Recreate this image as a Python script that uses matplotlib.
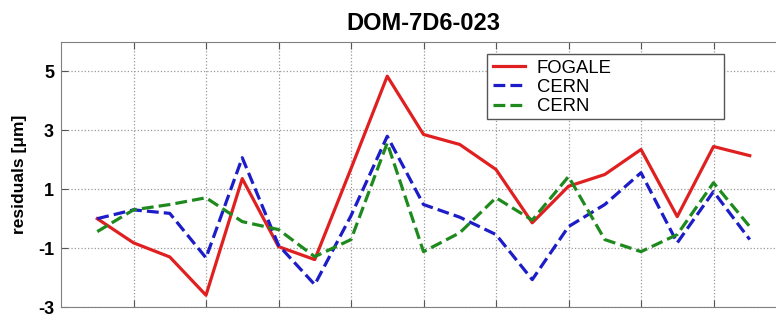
import matplotlib
matplotlib.use("Agg")
import matplotlib.pyplot as plt
from matplotlib.patches import Rectangle

plt.rcParams['font.family'] = ['Liberation Sans', 'DejaVu Sans']

title = "DOM-7D6-023"
ylabel = "residuals [\u03bcm]"
x = list(range(1, 20))
fogale = [0.0, -0.82, -1.3, -2.6, 1.36, -0.95, -1.39, 1.7, 4.84, 2.86, 2.52, 1.67,
          -0.14, 1.1, 1.5, 2.35, 0.07, 2.45, 2.14]
cern1 = [0.0, 0.3, 0.18, -1.33, 2.07, -0.9, -2.24, 0.1, 2.8, 0.48, 0.05, -0.54,
         -2.07, -0.27, 0.48, 1.56, -0.82, 0.92, -0.71]
cern2 = [-0.44, 0.3, 0.48, 0.71, -0.1, -0.37, -1.29, -0.71, 2.57, -1.12, -0.48, 0.71,
         -0.05, 1.43, -0.71, -1.12, -0.54, 1.22, -0.27]
labels = ["FOGALE", "CERN", "CERN"]
yticks = [-3, -1, 1, 3, 5]
xticks = list(range(2, 20, 2))

W, H = 776, 320
fig = plt.figure(figsize=(W / 100, H / 100), dpi=100)
L, R, T, B = 61, 786, 42, 307
ax = fig.add_axes([L / W, 1 - B / H, (R - L) / W, (B - T) / H])

lw = 2.3
ax.plot(x, fogale, color='#e02020', lw=lw, label=labels[0])
ax.plot(x, cern1, color='#1c1cc8', lw=lw, ls='--', label=labels[1])
ax.plot(x, cern2, color='#1e8a1e', lw=lw, ls='--', label=labels[2])

ax.set_xlim(0, 20)
ax.set_ylim(-3, 6)
ax.set_xticks(xticks)
ax.set_xticklabels([])
ax.set_yticks(yticks)
ax.set_yticklabels([str(v) for v in yticks], fontweight='bold', fontsize=13)
ax.tick_params(direction='in', length=5, width=0.8, color='#555555', top=True,
               pad=5)
ax.grid(True, ls=':', color='#999999', lw=0.9)
for s in ['left', 'top', 'bottom']:
    ax.spines[s].set_color('#808080')
ax.spines['right'].set_visible(False)

ax.set_title(title, fontsize=17, fontweight='bold', pad=9)
ax.set_ylabel(ylabel, fontsize=12.5, fontweight='bold', labelpad=8)

# legend box
bx0, bx1, by0, by1 = 487, 724, 54, 119
x0 = (bx0 - L) / (R - L); x1 = (bx1 - L) / (R - L)
y0 = (B - by1) / (B - T); y1 = (B - by0) / (B - T)
ax.add_patch(Rectangle((x0, y0), x1 - x0, y1 - y0, transform=ax.transAxes,
                       facecolor='white', edgecolor='#555555', lw=1.0, zorder=5))
leg = ax.legend(loc='upper left', bbox_to_anchor=(x0, y1), frameon=False,
                fontsize=13.3, borderaxespad=0, borderpad=0.3,
                handlelength=1.75, handletextpad=0.65, labelspacing=0.12)
leg.set_zorder(6)

fig.savefig("out.png", dpi=100)
